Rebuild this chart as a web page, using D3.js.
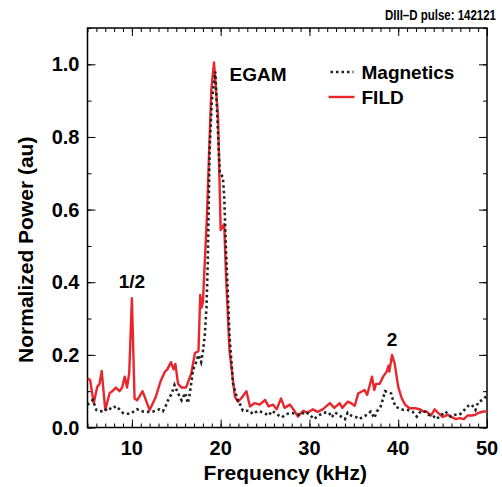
<!DOCTYPE html>
<html>
<head>
<meta charset="utf-8">
<script src="https://cdn.jsdelivr.net/npm/d3@7"></script>
<style>
  body { margin: 0; background: #fff; }
  text { font-family: "Liberation Sans", Arial, sans-serif; font-weight: bold; fill: #000; }
</style>
</head>
<body>
<div id="chart"></div>
<script>
// FILD spectrum (red)
const fildFreq = [5.0,5.3,5.7,6.1,6.35,6.6,7.0,7.5,7.8,8.2,8.6,8.9,9.2,9.45,9.7,10.0,10.3,10.6,11.2,12.0,12.7,13.2,13.7,14.0,14.4,14.7,14.9,15.2,15.6,16.1,16.7,17.1,17.5,17.7,17.85,18.0,18.2,18.45,18.7,18.95,19.25,19.7,20.0,20.4,20.6,21.0,21.6,21.95,22.3,22.9,23.3,23.8,24.4,25.0,25.4,25.9,26.3,26.8,27.2,27.8,28.3,28.7,29.3,29.8,30.4,30.9,31.5,32.3,32.8,33.4,33.7,34.3,34.7,35.1,35.5,35.9,36.2,36.5,36.8,37.05,37.3,37.5,37.9,38.3,38.7,38.9,39.0,39.3,39.6,40.0,40.4,40.8,41.3,41.9,42.5,42.8,43.2,43.7,44.1,44.5,45.0,45.6,46.1,46.5,46.9,47.4,47.8,48.3,48.7,49.0,49.6,50.0];
const fildPower = [0.136,0.13,0.067,0.112,0.12,0.156,0.048,0.095,0.10,0.11,0.10,0.11,0.14,0.11,0.15,0.356,0.08,0.075,0.10,0.048,0.085,0.125,0.153,0.16,0.18,0.16,0.175,0.12,0.11,0.11,0.15,0.205,0.21,0.365,0.33,0.345,0.45,0.58,0.76,0.93,1.005,0.856,0.544,0.56,0.42,0.21,0.085,0.071,0.08,0.10,0.058,0.067,0.063,0.076,0.058,0.063,0.05,0.08,0.054,0.063,0.046,0.03,0.046,0.041,0.05,0.043,0.05,0.067,0.054,0.067,0.054,0.071,0.067,0.06,0.094,0.099,0.103,0.09,0.117,0.14,0.103,0.12,0.12,0.14,0.154,0.17,0.154,0.2,0.176,0.112,0.08,0.062,0.053,0.053,0.05,0.044,0.044,0.033,0.05,0.04,0.029,0.035,0.028,0.023,0.026,0.023,0.033,0.033,0.035,0.04,0.044,0.044];

// Magnetics spectrum (black dotted)
const magFreq = [5.0,5.3,5.6,6.0,6.4,6.9,7.3,7.7,8.2,8.6,9.0,9.3,9.9,10.3,10.6,11.0,11.6,12.2,12.7,13.1,13.5,13.8,14.1,14.5,14.8,15.2,15.6,16.0,16.3,16.5,16.9,17.1,17.5,17.8,18.0,18.2,18.4,18.55,18.75,19.0,19.4,19.9,20.25,20.4,20.6,21.0,21.4,21.8,22.0,22.2,22.5,23.3,23.6,24.2,24.8,25.4,25.8,26.3,26.9,27.4,28.0,28.6,29.1,29.4,30.0,30.5,31.1,31.6,32.2,32.5,32.9,33.4,34.0,34.3,34.7,35.3,35.6,36.0,36.5,36.9,37.3,37.6,38.0,38.3,38.5,38.9,39.2,39.4,39.7,40.1,40.6,41.1,41.6,42.1,42.5,43.0,43.4,43.9,44.3,44.8,45.3,45.9,46.4,46.9,47.3,47.6,48.0,48.3,48.7,49.0,49.4,49.7,50.0];
const magPower = [0.062,0.07,0.076,0.048,0.045,0.044,0.055,0.05,0.059,0.05,0.04,0.038,0.038,0.046,0.05,0.045,0.043,0.043,0.046,0.05,0.045,0.059,0.076,0.094,0.117,0.094,0.075,0.095,0.067,0.09,0.16,0.17,0.2,0.18,0.21,0.25,0.33,0.46,0.76,0.90,0.98,0.70,0.69,0.635,0.49,0.25,0.12,0.085,0.067,0.063,0.046,0.046,0.037,0.046,0.041,0.033,0.046,0.037,0.028,0.037,0.04,0.037,0.034,0.043,0.037,0.023,0.034,0.041,0.041,0.028,0.041,0.033,0.023,0.041,0.033,0.028,0.023,0.029,0.035,0.044,0.026,0.044,0.057,0.08,0.1,0.097,0.094,0.076,0.057,0.053,0.048,0.048,0.044,0.03,0.044,0.044,0.035,0.033,0.023,0.033,0.044,0.03,0.035,0.035,0.044,0.053,0.062,0.062,0.048,0.07,0.075,0.08,0.09];

const xTicks = [10, 20, 30, 40, 50];
const yTicks = [0.0, 0.2, 0.4, 0.6, 0.8, 1.0];
const annotations = [
  { text: "1/2", f: 10.0, p: 0.385 },
  { text: "EGAM", f: 24.2, p: 0.955 },
  { text: "2", f: 39.3, p: 0.225 }
];

const W = 502, H = 487;
const margin = { top: 28, right: 15, bottom: 59.5, left: 87.5 };
const width = W - margin.left - margin.right,
  height = H - margin.top - margin.bottom;

const x = d3.scaleLinear().domain([5, 50]).range([0, width]);
const y = d3.scaleLinear().domain([0, 1.1]).range([height, 0]);

const svg = d3.select('#chart').append('svg')
  .attr('width', W).attr('height', H);

const g = svg.append('g')
  .attr('transform', `translate(${margin.left},${margin.top})`);

g.append('clipPath').attr('id', 'clip')
  .append('rect').attr('width', width).attr('height', height);

// ticks: major + minor, inward on all four sides
const minorX = d3.range(5, 51, 1);
const minorY = d3.range(0, 1.11, 0.1);

function tickSet(axisFn, scale, vals, len) {
  return axisFn(scale).tickValues(vals).tickSize(len).tickFormat('');
}
g.append('g').attr('transform', `translate(0,${height})`).call(tickSet(d3.axisTop, x, minorX, 4));
g.append('g').attr('transform', `translate(0,${height})`).call(tickSet(d3.axisTop, x, xTicks, 8));
g.append('g').call(tickSet(d3.axisBottom, x, minorX, 4));
g.append('g').call(tickSet(d3.axisBottom, x, xTicks, 8));
g.append('g').call(tickSet(d3.axisRight, y, minorY, 4));
g.append('g').call(tickSet(d3.axisRight, y, yTicks, 8));
g.append('g').attr('transform', `translate(${width},0)`).call(tickSet(d3.axisLeft, y, minorY, 4));
g.append('g').attr('transform', `translate(${width},0)`).call(tickSet(d3.axisLeft, y, yTicks, 8));
g.selectAll('.domain').remove();
g.selectAll('.tick line').attr('stroke', '#000').attr('stroke-width', 1);

// frame
g.append('rect').attr('width', width).attr('height', height)
  .attr('fill', 'none').attr('stroke', '#000').attr('stroke-width', 1.5);

// tick labels
g.selectAll('.xlab').data(xTicks).enter().append('text')
  .attr('x', d => x(d)).attr('y', height + 27)
  .attr('text-anchor', 'middle').style('font-size', '20px')
  .text(d => d);
g.selectAll('.ylab').data(yTicks).enter().append('text')
  .attr('x', -8).attr('y', d => y(d) + 7)
  .attr('text-anchor', 'end').style('font-size', '20px')
  .text(d => d.toFixed(1));

// axis titles
g.append('text').attr('x', width / 2 - 2).attr('y', height + 52)
  .attr('text-anchor', 'middle').style('font-size', '21px')
  .text('Frequency (kHz)');
g.append('text').attr('transform', `translate(-55,${height / 2 + 22}) rotate(-90)`)
  .attr('text-anchor', 'middle').style('font-size', '21px')
  .text('Normalized Power (au)');

// lines
const magData = magFreq.map((f, i) => ({ f: f, p: magPower[i] }));
const fildData = fildFreq.map((f, i) => ({ f: f, p: fildPower[i] }));
const line = d3.line().x(d => x(d.f)).y(d => y(d.p));

const plot = g.append('g').attr('clip-path', 'url(#clip)');
plot.append('path').datum(fildData)
  .attr('d', line).attr('fill', 'none')
  .attr('stroke', '#e8262b').attr('stroke-width', 2.4)
  .attr('stroke-linejoin', 'round');
plot.append('path').datum(magData)
  .attr('d', line).attr('fill', 'none')
  .attr('stroke', '#222').attr('stroke-width', 2.6)
  .attr('stroke-dasharray', '2.5,3');

// annotations
g.selectAll('.ann').data(annotations).enter().append('text')
  .attr('x', d => x(d.f)).attr('y', d => y(d.p))
  .attr('text-anchor', 'middle').style('font-size', '19px')
  .text(d => d.text);

// legend
const leg = g.append('g');
leg.append('line').attr('x1', 243).attr('x2', 266).attr('y1', 44).attr('y2', 44)
  .attr('stroke', '#222').attr('stroke-width', 2.6).attr('stroke-dasharray', '2.5,3');
leg.append('text').attr('x', 274).attr('y', 51).style('font-size', '19px').text('Magnetics');
leg.append('line').attr('x1', 241).attr('x2', 267).attr('y1', 69).attr('y2', 69)
  .attr('stroke', '#e8262b').attr('stroke-width', 2.4);
leg.append('text').attr('x', 274).attr('y', 76).style('font-size', '19px').text('FILD');

// title (narrow, like the original)
svg.append('text').attr('transform', 'translate(496,20) scale(0.82,1)')
  .attr('text-anchor', 'end').style('font-size', '14px')
  .text('DIII\u2013D pulse: 142121');
</script>
</body>
</html>
